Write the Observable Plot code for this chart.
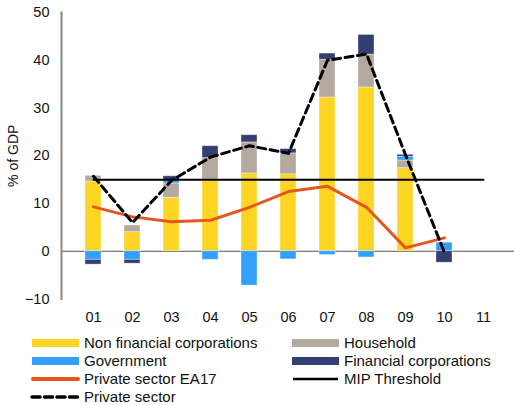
<!DOCTYPE html>
<html>
<head>
<meta charset="utf-8">
<script src="https://cdn.jsdelivr.net/npm/d3@7"></script>
<script src="https://cdn.jsdelivr.net/npm/@observablehq/plot@0.6"></script>
<style>
  body { margin: 0; background: #fff; font-family: "Liberation Sans", Arial, sans-serif; }
  #wrap { position: relative; width: 514px; height: 405px; }
  #legend { position: absolute; left: 0; top: 330px; width: 514px; height: 75px; font-size: 15px; color: #111; }
  .item { position: absolute; height: 18px; line-height: 18px; white-space: nowrap; }
  .item svg { position: absolute; left: 0; top: 0; }
  .item span { position: absolute; left: 54px; top: 0; }
</style>
</head>
<body>
<div id="wrap">
  <div id="chart"></div>
  <div id="legend"></div>
</div>
<script>
const years = ["01", "02", "03", "04", "05", "06", "07", "08", "09", "10", "11"];
const sectors = ["Non financial corporations", "Household", "Government", "Financial corporations"];
const sectorColors = ["#FFD523", "#B3A99F", "#33A0FF", "#333E72"];
const nonFinancial = [14.6, 4.0, 11.2, 15.0, 16.3, 16.1, 32.2, 34.3, 17.4, 0, null];
const household = [1.2, 1.4, 3.0, 4.5, 6.5, 4.4, 7.9, 6.9, 1.6, 0, null];
const government = [-1.8, -1.8, 0.6, -1.8, -7.2, -1.7, -0.8, -1.3, 0.8, 1.8, null];
const financial = [-1.0, -0.8, 0.9, 2.5, 1.5, 0.9, 1.3, 4.1, 0.4, -2.4, null];
const privateEA17 = [9.3, 7.2, 6.2, 6.5, 9.2, 12.5, 13.6, 9.2, 0.7, 2.8, null];
const privateSector = [15.7, 6.0, 14.8, 19.7, 22.1, 20.5, 40.0, 41.3, 20.2, -0.3, null];
const mipThreshold = [15, 15, 15, 15, 15, 15, 15, 15, 15, 15, 15];
const yTicks = [-10, 0, 10, 20, 30, 40, 50];

const seriesVals = [nonFinancial, household, government, financial];
const barRows = [];
sectors.forEach((s, k) => {
  years.forEach((yr, i) => {
    const v = seriesVals[k][i];
    if (v != null && v !== 0) barRows.push({year: yr, sector: s, value: v});
  });
});
const toRows = arr => years.map((yr, i) => ({year: yr, value: arr[i]}));

const chart = Plot.plot({
  width: 514,
  height: 330,
  marginLeft: 61,
  marginRight: 0,
  marginTop: 12,
  marginBottom: 31.5,
  style: {fontFamily: "'Liberation Sans', Arial, sans-serif", fontSize: "14.5px", color: "#111"},
  x: {domain: years, padding: 0.6, align: 0.5, label: null},
  y: {domain: [-10, 50], label: null},
  color: {domain: sectors, range: sectorColors},
  marks: [
    Plot.ruleY([0], {stroke: "#555", strokeWidth: 1}),
    Plot.barY(barRows, {x: "year", y: "value", fill: "sector", stroke: "#fff", strokeOpacity: 0.45, strokeWidth: 0.8}),
    Plot.frame({anchor: "left", stroke: "#888", strokeWidth: 2}),
    Plot.axisY({ticks: yTicks, tickSize: 0, tickPadding: 12, label: null, fontSize: 14.5}),
    Plot.axisY({ticks: [], tickSize: 0, label: "% of GDP", labelAnchor: "center", labelOffset: 53, labelArrow: "none", fontSize: 14}),
    Plot.axisX({tickSize: 0, tickPadding: 13, fontSize: 14.5}),
    Plot.line(toRows(mipThreshold), {x: "year", y: "value", stroke: "#000", strokeWidth: 2}),
    Plot.line(toRows(privateEA17), {x: "year", y: "value", stroke: "#E8561F", strokeWidth: 3, curve: "linear"}),
    Plot.line(toRows(privateSector), {x: "year", y: "value", stroke: "#000", strokeWidth: 3, strokeDasharray: "8,4.5"})
  ]
});
document.getElementById("chart").appendChild(chart);

const legendItems = [
  {label: "Non financial corporations", type: "rect", color: sectorColors[0]},
  {label: "Household", type: "rect", color: sectorColors[1]},
  {label: "Government", type: "rect", color: sectorColors[2]},
  {label: "Financial corporations", type: "rect", color: sectorColors[3]},
  {label: "Private sector EA17", type: "line", color: "#E8561F", width: 4, cap: "round"},
  {label: "MIP Threshold", type: "line", color: "#000", width: 2.5},
  {label: "Private sector", type: "dash", color: "#000", width: 3.5}
];
const legend = document.getElementById("legend");
legendItems.forEach((it, i) => {
  const col = i % 2, row = Math.floor(i / 2);
  const div = document.createElement("div");
  div.className = "item";
  div.style.left = (col === 0 ? 30 : 290) + "px";
  div.style.top = (3.5 + row * 18.3) + "px";
  let sw;
  if (it.type === "rect") {
    sw = `<svg width="52" height="18"><rect x="2" y="5" width="47" height="8" fill="${it.color}"/></svg>`;
  } else if (it.type === "line") {
    sw = `<svg width="52" height="18"><line x1="3" x2="48" y1="9" y2="9" stroke="${it.color}" stroke-width="${it.width}" stroke-linecap="${it.cap || 'butt'}"/></svg>`;
  } else {
    sw = `<svg width="52" height="18"><line x1="2" x2="49" y1="9" y2="9" stroke="${it.color}" stroke-width="${it.width}" stroke-dasharray="8,4.5" stroke-linecap="round"/></svg>`;
  }
  div.innerHTML = sw + `<span>${it.label}</span>`;
  legend.appendChild(div);
});
</script>
</body>
</html>
